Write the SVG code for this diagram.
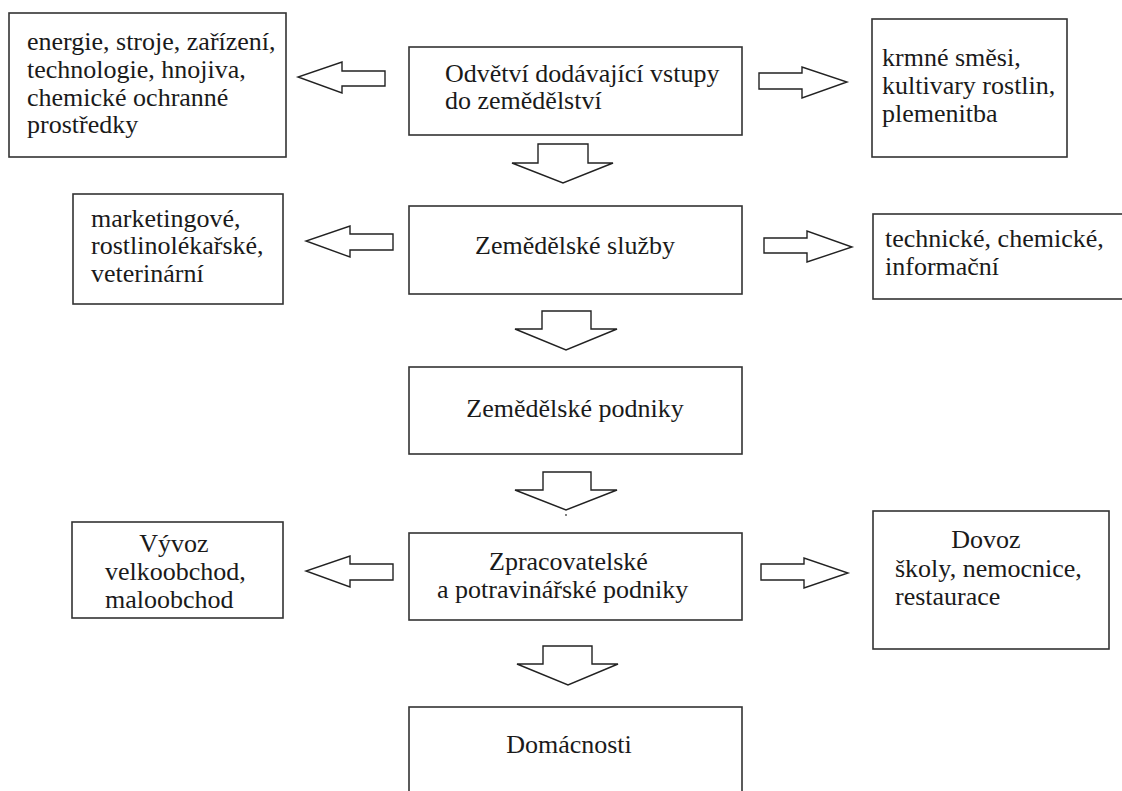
<svg xmlns="http://www.w3.org/2000/svg" width="1122" height="791" viewBox="0 0 1122 791">
<style>
.box{fill:#fff;stroke:#333;stroke-width:1.6}
.arr{fill:#fff;stroke:#222;stroke-width:1.4;stroke-linejoin:miter}
text{font-family:"Liberation Serif","Times New Roman",serif;font-size:26px;fill:#1a1a1a}
.c{text-anchor:middle}
</style>
<rect width="1122" height="791" fill="#fff"/>
<g id="connectors">
<polygon class="arr" points="385,71 342,71 342,62 298,77 342,93 342,86 385,86"/>
<polygon class="arr" points="759,73 802,73 802,67 847,82 802,98 802,89 759,89"/>
<polygon class="arr" points="538,144 588,144 588,163 613,163 563,183 512,163 538,163"/>
<polygon class="arr" points="393,234 350,234 350,226 306,241 350,257 350,250 393,250"/>
<polygon class="arr" points="764,238 807,238 807,231 852,247 807,262 807,253 764,253"/>
<polygon class="arr" points="542,311 591,311 591,329 617,329 566,350 515,329 542,329"/>
<polygon class="arr" points="543,472 591,472 591,490 617,490 566,510 515,490 543,490"/>
<circle cx="566" cy="515" r="0.9" fill="#444"/>
<polygon class="arr" points="393,564 350,564 350,556 306,571 350,587 350,580 393,580"/>
<polygon class="arr" points="761,564 804,564 804,558 848,573 804,588 804,580 761,580"/>
<polygon class="arr" points="543,646 592,646 592,664 618,664 568,685 517,664 543,664"/>
</g>
<g id="inputs-left">
<rect class="box" x="9" y="13" width="277" height="144"/>
<text x="27" y="50">energie, stroje, zařízení,</text>
<text x="27" y="78">technologie, hnojiva,</text>
<text x="27" y="106">chemické ochranné</text>
<text x="27" y="133">prostředky</text>
</g>
<g id="inputs">
<rect class="box" x="409" y="47" width="333" height="88"/>
<text x="445" y="82">Odvětví dodávající vstupy</text>
<text x="445" y="109">do zemědělství</text>
</g>
<g id="inputs-right">
<rect class="box" x="872" y="19" width="195" height="138"/>
<text x="882" y="66">krmné směsi,</text>
<text x="882" y="94">kultivary rostlin,</text>
<text x="882" y="122">plemenitba</text>
</g>
<g id="services-left">
<rect class="box" x="73" y="194" width="210" height="110"/>
<text x="91" y="227">marketingové,</text>
<text x="91" y="254">rostlinolékařské,</text>
<text x="91" y="282">veterinární</text>
</g>
<g id="services">
<rect class="box" x="409" y="206" width="333" height="88"/>
<text class="c" x="575" y="254">Zemědělské služby</text>
</g>
<g id="services-right">
<rect class="box" x="873" y="214" width="260" height="85"/>
<text x="885" y="247">technické, chemické,</text>
<text x="885" y="275">informační</text>
</g>
<g id="farms">
<rect class="box" x="409" y="367" width="333" height="87"/>
<text class="c" x="575" y="417">Zemědělské podniky</text>
</g>
<g id="export">
<rect class="box" x="72" y="522" width="211" height="96"/>
<text class="c" x="174" y="552">Vývoz</text>
<text x="105" y="580">velkoobchod,</text>
<text x="105" y="608">maloobchod</text>
</g>
<g id="processing">
<rect class="box" x="409" y="533" width="333" height="87"/>
<text x="489" y="570">Zpracovatelské</text>
<text x="437" y="598">a potravinářské podniky</text>
</g>
<g id="import">
<rect class="box" x="873" y="511" width="236" height="138"/>
<text class="c" x="986" y="548">Dovoz</text>
<text x="895" y="577">školy, nemocnice,</text>
<text x="895" y="605">restaurace</text>
</g>
<g id="households">
<rect class="box" x="409" y="707" width="333" height="100"/>
<text class="c" x="569" y="753">Domácnosti</text>
</g>
</svg>
